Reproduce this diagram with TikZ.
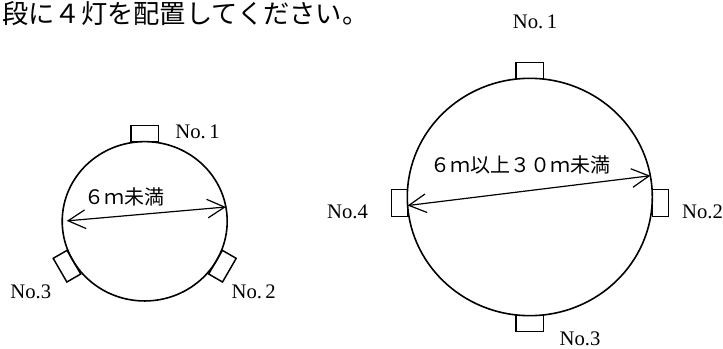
\documentclass[tikz,border=0pt]{standalone}
\usepackage{fontspec}
\usepackage{tikz}
\usetikzlibrary{shapes.geometric, arrows.meta, positioning}
\newfontfamily\jp{Noto Sans CJK JP}
\newfontfamily\lampfont{Liberation Serif}
\tikzstyle{pole} = [ellipse, draw=black, line width=1.2pt, inner sep=0pt, outer sep=0pt]
\tikzstyle{lamp} = [rectangle, draw=black, line width=1.1pt, minimum width=20.5pt, minimum height=12pt, inner sep=0pt, outer sep=0pt]
\tikzstyle{lampv} = [lamp, minimum width=12pt, minimum height=20.5pt]
\tikzstyle{lbl} = [font=\lampfont\fontsize{15.5}{16}\selectfont, inner sep=0pt]
\tikzstyle{dimtext} = [font=\jp\fontsize{15}{15}\selectfont, inner sep=0pt]
\tikzstyle{dimline} = [line width=0.9pt, {Straight Barb[length=13pt, width=14pt]}-{Straight Barb[length=13pt, width=14pt]}]

\begin{document}
\begin{tikzpicture}[x=0.75pt, y=0.75pt]
\useasboundingbox (0,0) rectangle (723,349);

\node (title) [anchor=west, inner sep=0pt, font=\jp\fontsize{19.7}{20}\selectfont] at (2,335.5) {段に４灯を配置してください。};

% under 6 m
\node (small) [pole, minimum width=123.75pt, minimum height=119.5pt] at (144.7,127.7) {};
\node (s1) [lamp, above=0pt of small.north] {};
\node (s2) [lamp, anchor=south, rotate=-120] at (small.-30) {};
\node (s3) [lamp, anchor=south, rotate=120] at (small.-150) {};
\node (n-s1) [lbl] at (197.5,217) {No.\,1};
\node (n-s2) [lbl] at (253.7,57.3) {No.\,2};
\node (n-s3) [lbl] at (30.8,57.3) {No.3};
\draw[dimline, shorten <=3.5pt] (small.180) -- (small.10);
\node (w-s) [dimtext] at (124,152.3) {６ｍ未満};

% 6 m to 30 m
\node (big) [pole, minimum width=183.75pt, minimum height=178pt] at (529.8,152) {};
\node (b1) [lamp, above=0pt of big.north] {};
\node (b3) [lamp, below=0pt of big.south] {};
\node (b4) [lampv, left=0pt of big.west, yshift=-4.5pt] {};
\node (b2) [lampv, right=0pt of big.east, yshift=-4.5pt] {};
\node (n-b1) [lbl] at (535,327.3) {No.\,1};
\node (n-b2) [lbl] at (702.5,137.3) {No.2};
\node (n-b3) [lbl] at (580,10) {No.3};
\node (n-b4) [lbl] at (347.5,137.3) {No.4};
\draw[dimline] (big.184) -- (big.10);
\node (w-b) [dimtext] at (520.8,184) {６ｍ以上３０ｍ未満};

\end{tikzpicture}
\end{document}
